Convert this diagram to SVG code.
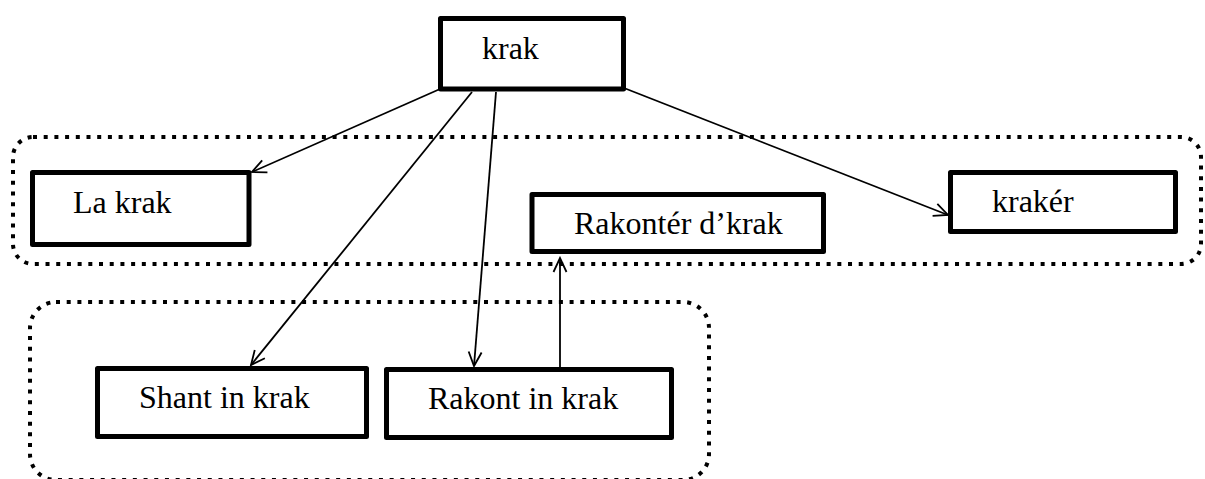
<svg xmlns="http://www.w3.org/2000/svg" width="1205" height="479" viewBox="0 0 1205 479">
  <style>
    .box { fill: #fff; stroke: #000; stroke-width: 5; stroke-linejoin: round; }
    .group { fill: none; stroke: #000; stroke-width: 4; stroke-dasharray: 4 6.7; }
    .label { font-family: "Liberation Serif", "Times New Roman", serif; font-size: 32px; fill: #000; }
    .edge { fill: none; stroke: #000; stroke-width: 1.8; marker-end: url(#arrow); }
  </style>
  <defs>
    <marker id="arrow" markerUnits="userSpaceOnUse" viewBox="-16 -8 18 16" refX="0" refY="0" markerWidth="18" markerHeight="16" orient="auto">
      <path d="M-14,-6.5 L0,0 L-14,6.5" fill="none" stroke="#000" stroke-width="1.8" stroke-linejoin="miter"/>
    </marker>
  </defs>
  <rect width="1205" height="479" fill="#fff"/>

  <!-- dotted groupings -->
  <g id="groups">
    <rect class="group" x="13" y="137" width="1188" height="127" rx="20" ry="20"/>
    <rect class="group" x="30" y="302" width="679" height="178" rx="26" ry="26"/>
  </g>

  <!-- connectors -->
  <g id="connectors">
    <line class="edge" x1="440" y1="89" x2="252" y2="172"/>
    <line class="edge" x1="472" y1="92" x2="251" y2="365"/>
    <line class="edge" x1="496" y1="92" x2="474" y2="366"/>
    <line class="edge" x1="560" y1="367" x2="560" y2="258"/>
    <line class="edge" x1="624" y1="88" x2="948" y2="215"/>
  </g>

  <g id="node-krak">
    <rect class="box" x="440.5" y="18.5" width="183" height="70.5"/>
    <text class="label" x="482" y="59">krak</text>
  </g>
  <g id="node-la-krak">
    <rect class="box" x="32.5" y="172.5" width="216.5" height="72"/>
    <text class="label" x="73" y="213">La krak</text>
  </g>
  <g id="node-rakonter">
    <rect class="box" x="532" y="194.5" width="291.5" height="57"/>
    <text class="label" x="574" y="234">Rakontér d’krak</text>
  </g>
  <g id="node-kraker">
    <rect class="box" x="950.5" y="172.5" width="225" height="59"/>
    <text class="label" x="992" y="212">krakér</text>
  </g>
  <g id="node-shant">
    <rect class="box" x="97.5" y="368.5" width="269" height="68"/>
    <text class="label" x="139" y="408">Shant in krak</text>
  </g>
  <g id="node-rakont">
    <rect class="box" x="386.5" y="369.5" width="285" height="68"/>
    <text class="label" x="428" y="409">Rakont in krak</text>
  </g>
</svg>
